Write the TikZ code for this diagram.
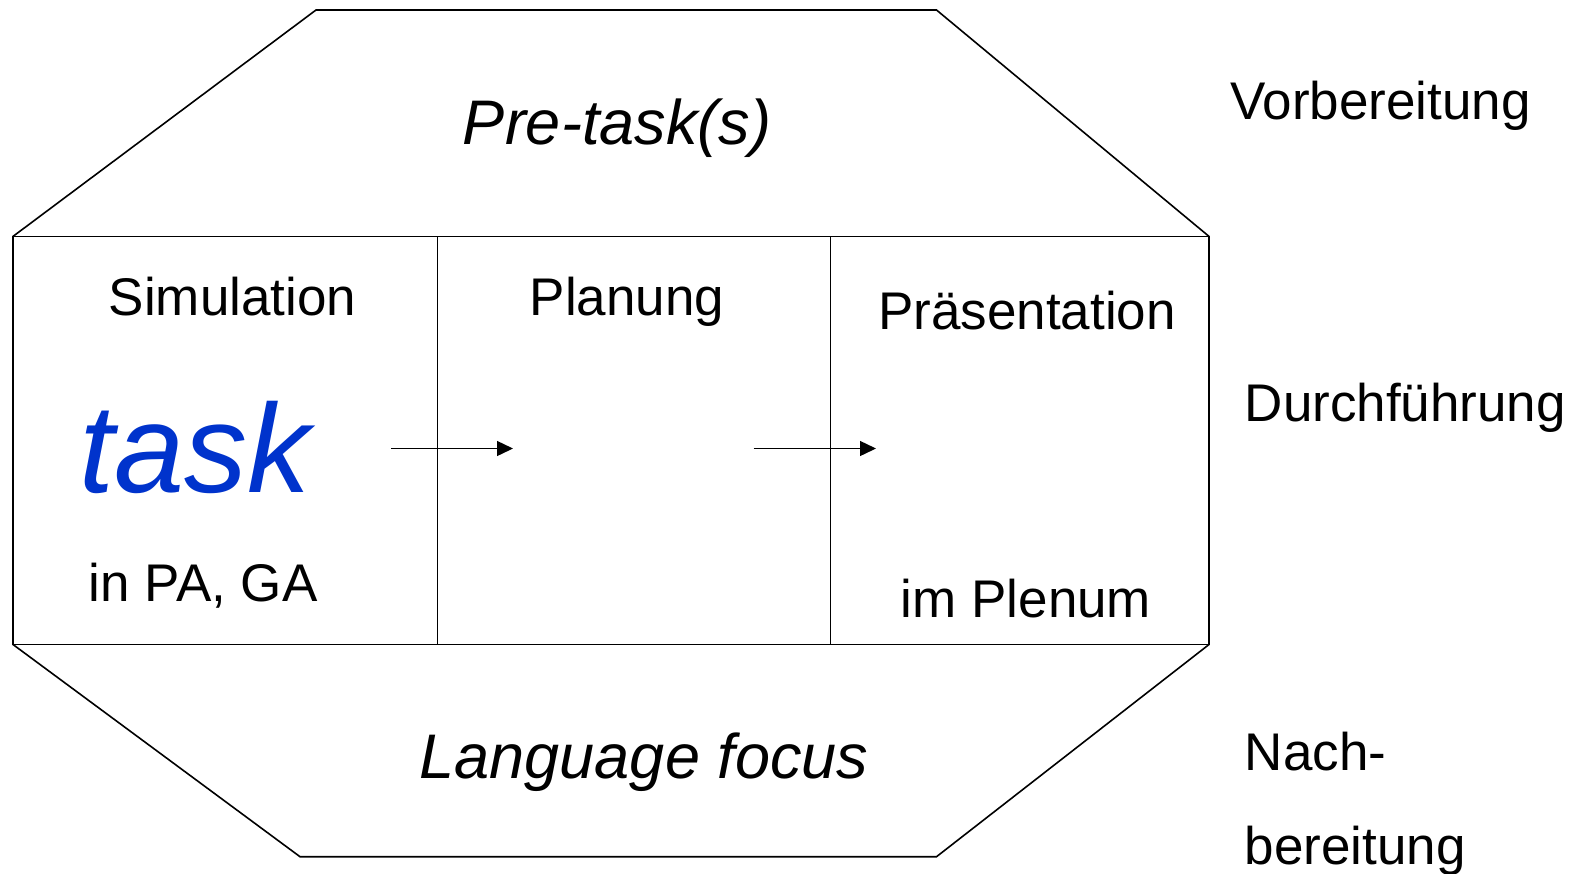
\documentclass[tikz,border=0pt]{standalone}
\usepackage{fontspec}
\setmainfont{Liberation Sans}
\usetikzlibrary{arrows.meta}
\definecolor{taskblue}{RGB}{0,51,204}
\tikzset{
  lbl/.style={inner sep=0pt, anchor=base, font=\fontsize{53}{60}\selectfont},
  lblw/.style={lbl, anchor=base west},
  head/.style={inner sep=0pt, anchor=base, font=\fontsize{63}{70}\selectfont\itshape},
  frame/.style={line width=1.6pt, line join=miter},
  flow/.style={line width=1.4pt, -{Triangle[length=16pt,width=15pt]}}
}
\begin{document}
\begin{tikzpicture}[x=1pt,y=-1pt]
\useasboundingbox (0,0) rectangle (1584,873);
% outline
\draw[frame] (316,10) -- (936.5,10) -- (1209,236.4) -- (1209,644.5) -- (936.5,856.7) -- (300,856.7) -- (13,644.5) -- (13,236.4) -- cycle;
\draw[frame] (13,236.4) -- (1209,236.4);
\draw[frame] (13,644.5) -- (1209,644.5);
\draw[frame] (437.4,236.4) -- (437.4,644.5);
\draw[frame] (830.4,236.4) -- (830.4,644.5);
% texts
\node[head] (pre) at (617,144.5) {Pre-task(s)};
\node[lbl] (sim) at (232.5,315) {Simulation};
\node[lbl] (plan) at (627,315) {Planung};
\node[lbl] (pres) at (1027,329) {Präsentation};
\node[inner sep=0pt, anchor=base, font=\fontsize{126}{134}\selectfont\itshape, text=taskblue] (task) at (195,492) {task};
\node[lbl] (pa) at (203,601) {in PA, GA};
\node[lbl] (plenum) at (1026,617) {im Plenum};
\node[head] (lang) at (644,778) {Language focus};
\node[lblw] (vor) at (1230,119) {Vorbereitung};
\node[lblw] (durch) at (1244.6,421) {Durchführung};
\node[lblw] (nach) at (1244.6,770) {Nach-};
\node[lblw] (nachb) at (1244.6,864) {bereitung};
% arrows
\coordinate (a1s) at (391,448.5);
\coordinate (a1e) at (513,448.5);
\coordinate (a2s) at (753.6,448.5);
\coordinate (a2e) at (876,448.5);
\draw[flow] (a1s) -- (a1e);
\draw[flow] (a2s) -- (a2e);
\end{tikzpicture}
\end{document}
